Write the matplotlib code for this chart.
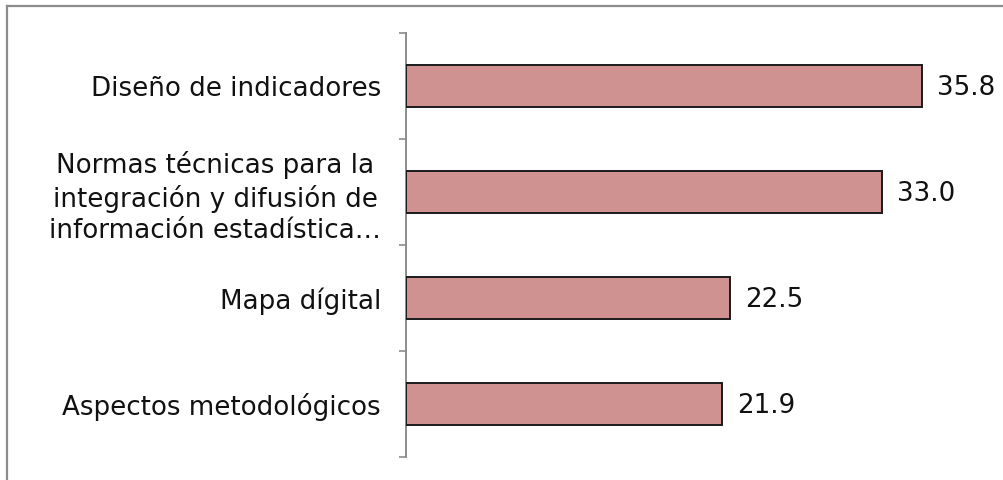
import matplotlib
matplotlib.use("Agg")
import matplotlib.pyplot as plt
from matplotlib.lines import Line2D

categories = [
    "Diseño de indicadores",
    "Normas técnicas para la\nintegración y difusión de\ninformación estadística…",
    "Mapa dígital",
    "Aspectos metodológicos",
]
values = [35.8, 33.0, 22.5, 21.9]
value_labels = ["35.8", "33.0", "22.5", "21.9"]

W, H = 1004, 480
fig = plt.figure(figsize=(W / 100, H / 100), dpi=100)
fig.patch.set_facecolor("white")

# outer gray frame (top and left visible)
fig.add_artist(Line2D([6.5 / W, 6.5 / W], [0, 1 - 5.5 / H], transform=fig.transFigure,
                      color="#8c8c8c", lw=1.6))
fig.add_artist(Line2D([6.5 / W, 1], [1 - 5.5 / H, 1 - 5.5 / H], transform=fig.transFigure,
                      color="#8c8c8c", lw=1.6))

ax_left, ax_right = 406, 995
ax_top, ax_bot = 33, 457
ax = fig.add_axes([ax_left / W, 1 - ax_bot / H, (ax_right - ax_left) / W, (ax_bot - ax_top) / H])

px_per_unit = (922 - 406) / 35.8
xmax = (ax_right - ax_left) / px_per_unit

FS = 18.8
n = len(categories)
ypos = list(range(n))
ax.barh(ypos, values, height=0.39, color="#d09191", edgecolor="#1a1a1a", linewidth=1.4, zorder=3)
ax.set_ylim(n - 0.5, -0.5)
ax.set_xlim(0, xmax)

for y, v, lab in zip(ypos, values, value_labels):
    ax.annotate(lab, xy=(v, y), xytext=(15 * 0.72, -1.2), textcoords="offset points",
                ha="left", va="center", fontsize=FS, color="#111111", family="DejaVu Sans")

ax.set_yticks(ypos)
ax.set_yticklabels(categories, fontsize=FS, color="#111111", family="DejaVu Sans",
                   multialignment="center", linespacing=1.27)
ax.tick_params(axis="y", which="major", length=0, pad=18)
ax.set_yticks([i - 0.5 for i in range(n + 1)], minor=True)
ax.tick_params(axis="y", which="minor", length=5, width=1.2, color="#8c8c8c", direction="out")
ax.set_xticks([])

for s in ["top", "right", "bottom"]:
    ax.spines[s].set_visible(False)
ax.spines["left"].set_color("#8c8c8c")
ax.spines["left"].set_linewidth(1.4)
ax.patch.set_alpha(0)

fig.savefig("out.png", dpi=100, facecolor="white")
